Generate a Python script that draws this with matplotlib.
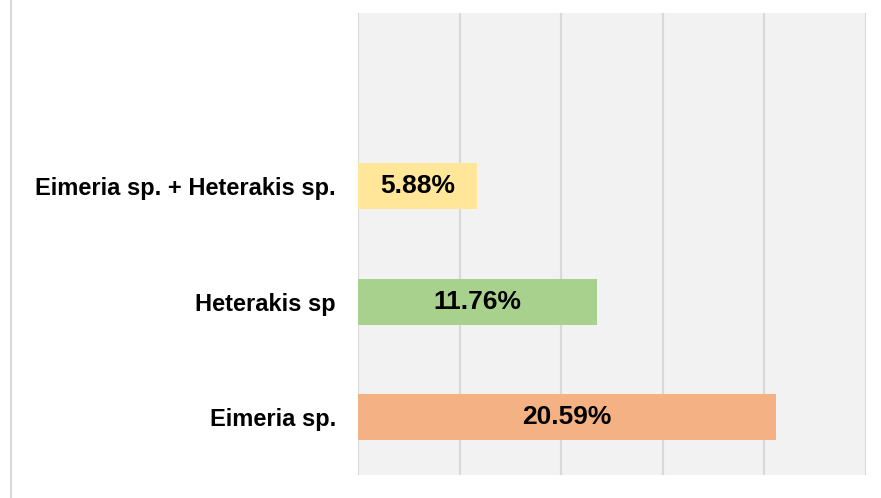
import matplotlib.pyplot as plt
from matplotlib.lines import Line2D

# infection categories (bottom to top)
categories = ['Eimeria sp.', 'Heterakis sp', 'Eimeria sp. + Heterakis sp.']
percent = [20.59, 11.76, 5.88]
bar_colors = ['#F4B183', '#A9D18E', '#FFE699']
value_labels = ['20.59%', '11.76%', '5.88%']

plt.rcParams['font.family'] = ['Liberation Sans', 'DejaVu Sans']

fig = plt.figure(figsize=(8.81, 4.98), dpi=100)
ax = fig.add_axes([358/881, 1 - 475/498, (866 - 358)/881, (475 - 13)/498])
ax.set_facecolor('#F2F2F2')

ypos = list(range(len(categories)))
ax.barh(ypos, percent, height=0.4, color=bar_colors, zorder=3)
for y, v, lab in zip(ypos, percent, value_labels):
    ax.text(v / 2, y, lab, ha='center', va='center', fontsize=19,
            fontweight='bold', color='black', zorder=4)

ax.set_xlim(0, 25)
ax.set_ylim(-0.5, 3.5)
ax.set_xticks([0, 5, 10, 15, 20, 25])
ax.set_xticklabels([])
ax.xaxis.grid(True, color='#D9D9D9', linewidth=1.5, zorder=0)
ax.set_yticks(ypos)
ax.set_yticklabels(categories, fontsize=17, fontweight='bold')
ax.tick_params(axis='both', length=0)
ax.tick_params(axis='y', pad=16)
for s in ax.spines.values():
    s.set_visible(False)

# thin border line at the left edge of the figure
fig.add_artist(Line2D([10.5/881, 10.5/881], [0, 1], transform=fig.transFigure,
                      color='#D9D9D9', linewidth=1.5))

fig.savefig('out.png', dpi=100)
